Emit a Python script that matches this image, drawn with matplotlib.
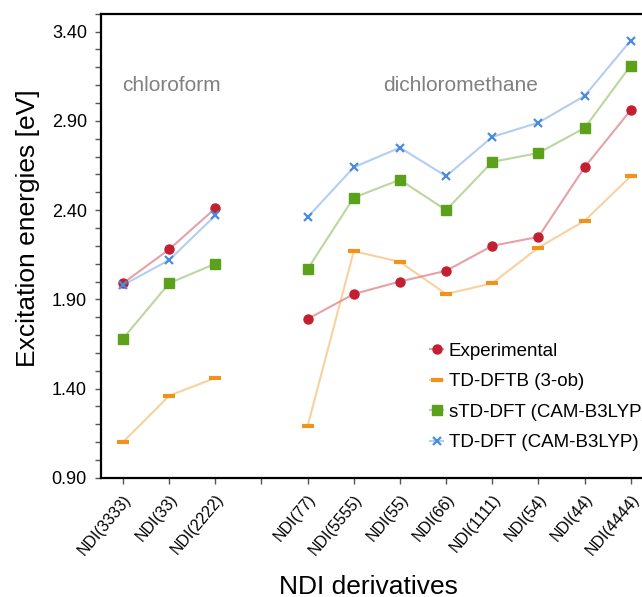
import numpy as np
import matplotlib
matplotlib.use("Agg")
import matplotlib.pyplot as plt
import matplotlib.transforms as mtransforms
from matplotlib.colors import to_rgba
from matplotlib.ticker import FixedLocator, FormatStrFormatter

plt.rcParams['font.family'] = ['Liberation Sans', 'DejaVu Sans']

# x categories (empty slot separates the two solvents)
labels = ["NDI(3333)", "NDI(33)", "NDI(2222)", "",
          "NDI(77)", "NDI(5555)", "NDI(55)", "NDI(66)",
          "NDI(1111)", "NDI(54)", "NDI(44)", "NDI(4444)"]

chl_names = ["NDI(3333)", "NDI(33)", "NDI(2222)"]
dcm_names = ["NDI(77)", "NDI(5555)", "NDI(55)", "NDI(66)",
             "NDI(1111)", "NDI(54)", "NDI(44)", "NDI(4444)"]

# chloroform
chl_exp = [1.99, 2.18, 2.41]
chl_dftb = [1.10, 1.36, 1.46]
chl_std = [1.68, 1.99, 2.10]
chl_tddft = [1.98, 2.12, 2.37]

# dichloromethane
dcm_exp = [1.79, 1.93, 2.00, 2.06, 2.20, 2.25, 2.64, 2.96]
dcm_dftb = [1.19, 2.17, 2.11, 1.93, 1.99, 2.19, 2.34, 2.59]
dcm_std = [2.07, 2.47, 2.57, 2.40, 2.67, 2.72, 2.86, 3.21]
dcm_tddft = [2.36, 2.64, 2.75, 2.59, 2.81, 2.89, 3.04, 3.35]

series = [
    ("Experimental", chl_exp, dcm_exp, "#C21F30", "o", 6.5, 1.0),
    ("TD-DFTB (3-ob)", chl_dftb, dcm_dftb, "#F0921C", "_", 8, 3.0),
    ("sTD-DFT (CAM-B3LYP)", chl_std, dcm_std, "#5BA11B", "s", 6.5, 1.0),
    ("TD-DFT (CAM-B3LYP)", chl_tddft, dcm_tddft, "#4A8BDB", "x", 6, 1.6),
]

x_chl = [labels.index(n) for n in chl_names]
x_dcm = [labels.index(n) for n in dcm_names]

fig = plt.figure(figsize=(6.42, 5.97), dpi=100)
ax = fig.add_axes([0.157, 0.1995, 0.86, 0.7775])

for name, a, b, c, m, ms, mew in series:
    style = dict(color=to_rgba(c, 0.42), lw=1.5, marker=m, ms=ms,
                 mfc=c, mec=c, mew=mew)
    ax.plot(x_chl, a, label=name, **style)
    ax.plot(x_dcm, b, **style)

ax.set_xlim(-0.48, len(labels) - 1 + 0.48)
ax.set_ylim(0.9, 3.5)
ax.set_xticks(np.arange(len(labels)))
ax.set_xticklabels(labels, rotation=50, ha="right", va="top",
                   rotation_mode="anchor", fontsize=11.5)
shift = mtransforms.ScaledTranslation(0.05, 0, fig.dpi_scale_trans)
for lab in ax.get_xticklabels():
    lab.set_transform(lab.get_transform() + shift)

ax.yaxis.set_major_locator(FixedLocator(np.arange(0.9, 3.41, 0.5)))
ax.yaxis.set_minor_locator(FixedLocator(np.arange(0.9, 3.51, 0.1)))
ax.yaxis.set_major_formatter(FormatStrFormatter("%.2f"))
ax.tick_params(axis="y", which="both", direction="out", length=4, width=1,
               labelsize=13, pad=6, color="#555555")
ax.tick_params(axis="x", direction="out", length=4, width=1, pad=6,
               color="#555555")

for s in ["left", "bottom", "top"]:
    ax.spines[s].set_linewidth(1.6)
ax.spines["right"].set_visible(False)

ax.text(-0.02, 3.10, "chloroform", fontsize=15, color="#808080", va="center")
ax.text(5.64, 3.10, "dichloromethane", fontsize=15, color="#808080", va="center")

ax.set_ylabel("Excitation energies [eV]", fontsize=19)
ax.yaxis.set_label_coords(-0.1105, 0.539)
ax.set_xlabel("NDI derivatives", fontsize=19)
ax.xaxis.set_label_coords(0.484, -0.21)

ax.legend(loc="upper left", bbox_to_anchor=(0.583, 0.308), frameon=False,
          fontsize=13.5, handlelength=0.7, handletextpad=0.3,
          labelspacing=0.72, borderaxespad=0)

fig.savefig("out.png", dpi=100)
